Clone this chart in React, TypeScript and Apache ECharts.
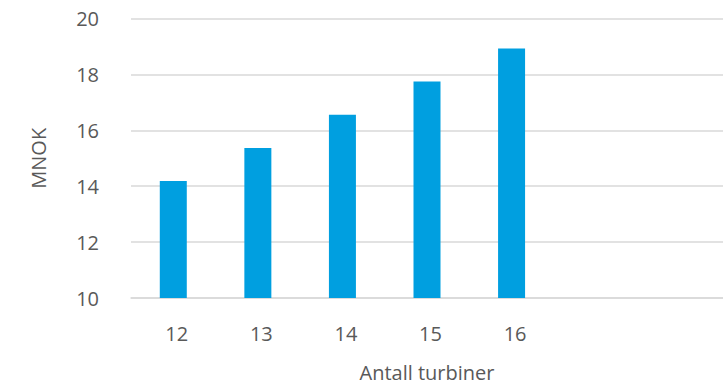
import React, { useEffect, useRef } from "react";
import * as echarts from "echarts";

// Number of turbines (two trailing empty slots keep the axis wide)
const categories: string[] = ["12", "13", "14", "15", "16", "", ""];
// Cost in MNOK per configuration
const costMNOK: (number | null)[] = [14.19, 15.37, 16.56, 17.75, 18.93, null, null];

const yTicks = { min: 10, max: 20, interval: 2 };

const FONT = "'Open Sans', 'Noto Sans', sans-serif";
const TEXT = "#595959";

export default function App() {
  const ref = useRef<HTMLDivElement>(null);

  useEffect(() => {
    if (!ref.current) return;
    const chart = echarts.init(ref.current, undefined, { renderer: "svg" });
    chart.setOption({
      animation: false,
      backgroundColor: "#ffffff",
      textStyle: { fontFamily: FONT },
      grid: { left: 131, right: -12, top: 18.5, bottom: 84.7 },
      xAxis: {
        type: "category",
        data: categories,
        name: "Antall turbiner",
        nameLocation: "middle",
        nameGap: 64,
        nameTextStyle: { color: TEXT, fontSize: 20, fontFamily: FONT },
        axisLine: { show: true, lineStyle: { color: "#D9D9D9", width: 1.5 } },
        axisTick: { show: false },
        axisLabel: {
          color: TEXT,
          fontSize: 20,
          fontFamily: FONT,
          margin: 25,
          padding: [0, 0, 0, 7],
        },
      },
      yAxis: {
        type: "value",
        min: yTicks.min,
        max: yTicks.max,
        interval: yTicks.interval,
        name: "MNOK",
        nameLocation: "middle",
        nameGap: 83,
        nameRotate: 90,
        nameTextStyle: { color: TEXT, fontSize: 20, fontFamily: FONT },
        axisLine: { show: false },
        axisTick: { show: false },
        axisLabel: { color: TEXT, fontSize: 20, fontFamily: FONT, margin: 32 },
        splitLine: { lineStyle: { color: "#D9D9D9", width: 1.5 } },
      },
      series: [
        {
          type: "bar",
          data: costMNOK,
          barWidth: 27,
          itemStyle: { color: "#009FE0" },
        },
      ],
    });
    return () => chart.dispose();
  }, []);

  return (
    <div
      ref={ref}
      style={{ position: "fixed", left: 0, top: 0, width: 723, height: 387 }}
    />
  );
}
